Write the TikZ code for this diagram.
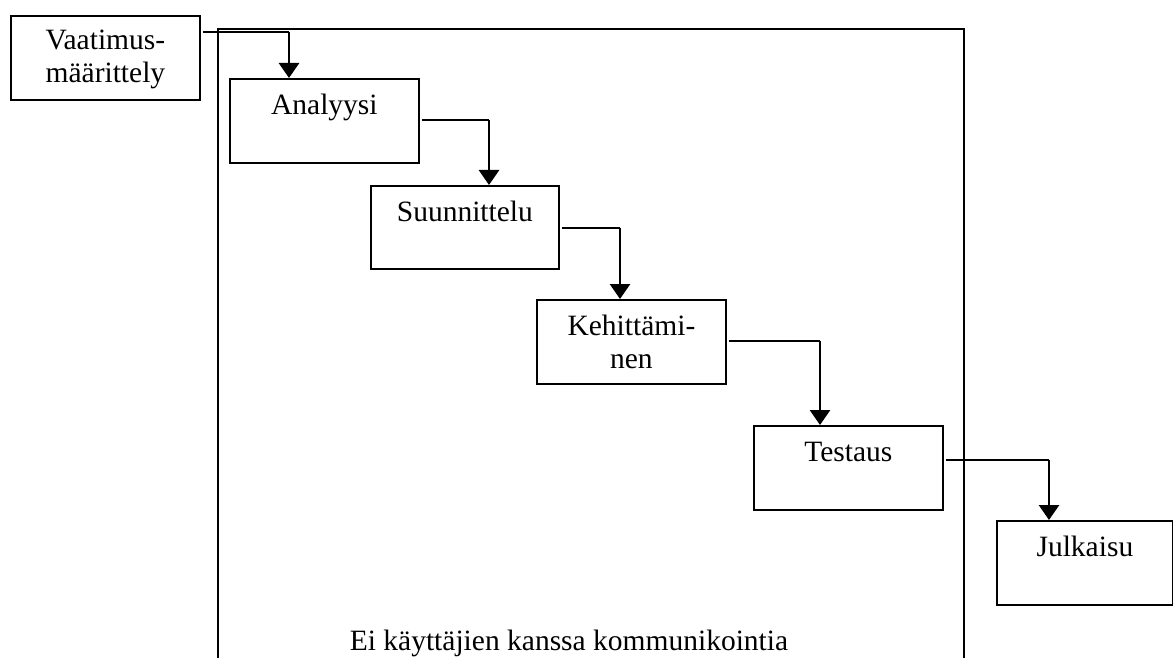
\documentclass[tikz,border=0pt]{standalone}
\usepackage{fontspec}
\setmainfont{Liberation Serif}
\usetikzlibrary{arrows.meta}
\begin{document}
\begin{tikzpicture}[x=1pt,y=-1pt,
  box/.style={draw, line width=1.8pt, inner sep=0pt, anchor=north west},
  lbl/.style={font=\fontsize{29.5}{33}\selectfont, align=center, anchor=base, inner sep=0pt},
  link/.style={line width=1.8pt},
  arr/.style={line width=2.8pt, -{Triangle[width=20pt,length=15pt]}},
  frame/.style={line width=2pt}]
\useasboundingbox (0,0) rectangle (1173,658);
% outer frame (open at the bottom)
\draw[frame] (218,660) -- (218,29) -- (964,29) -- (964,660);
% boxes
\node[box, minimum width=189pt, minimum height=84pt] (vaat) at (10,15) {};
\node[box, minimum width=189pt, minimum height=84pt] (ana) at (229,78) {};
\node[box, minimum width=188pt, minimum height=83pt] (suun) at (370,185) {};
\node[box, minimum width=189pt, minimum height=84pt] (keh) at (536,299) {};
\node[box, minimum width=189pt, minimum height=84pt] (test) at (753,425) {};
\node[box, minimum width=176pt, minimum height=84pt] (julk) at (996,520) {};
% labels (base anchor of a two-line label is the last line's baseline)
\node[lbl] (vaatT) at ([yshift=-68pt]vaat.north) {Vaatimus-\\määrittely};
\node[lbl] (anaT) at ([yshift=-37pt]ana.north) {Analyysi};
\node[lbl] (suunT) at ([yshift=-36pt]suun.north) {Suunnittelu};
\node[lbl] (kehT) at ([yshift=-69pt]keh.north) {Kehittämi-\\nen};
\node[lbl] (testT) at ([yshift=-36pt]test.north) {Testaus};
\node[lbl] (julkT) at ([yshift=-36pt]julk.north) {Julkaisu};
\node[lbl] (note) at (569,650) {Ei käyttäjien kanssa kommunikointia};
% connectors
\coordinate (c1) at (289,32);
\coordinate (c2) at (489,120);
\coordinate (c3) at (620,228);
\coordinate (c4) at (820,341);
\coordinate (c5) at (1049,460);
\draw[link] ([xshift=2pt]vaat.east |- c1) -- (c1);
\draw[arr] (c1) -- (c1 |- ana.north);
\draw[link] ([xshift=2pt]ana.east |- c2) -- (c2);
\draw[arr] (c2) -- (c2 |- suun.north);
\draw[link] ([xshift=2pt]suun.east |- c3) -- (c3);
\draw[arr] (c3) -- (c3 |- keh.north);
\draw[link] ([xshift=2pt]keh.east |- c4) -- (c4);
\draw[arr] (c4) -- (c4 |- test.north);
\draw[link] ([xshift=2pt]test.east |- c5) -- (c5);
\draw[arr] (c5) -- (c5 |- julk.north);
\end{tikzpicture}
\end{document}
